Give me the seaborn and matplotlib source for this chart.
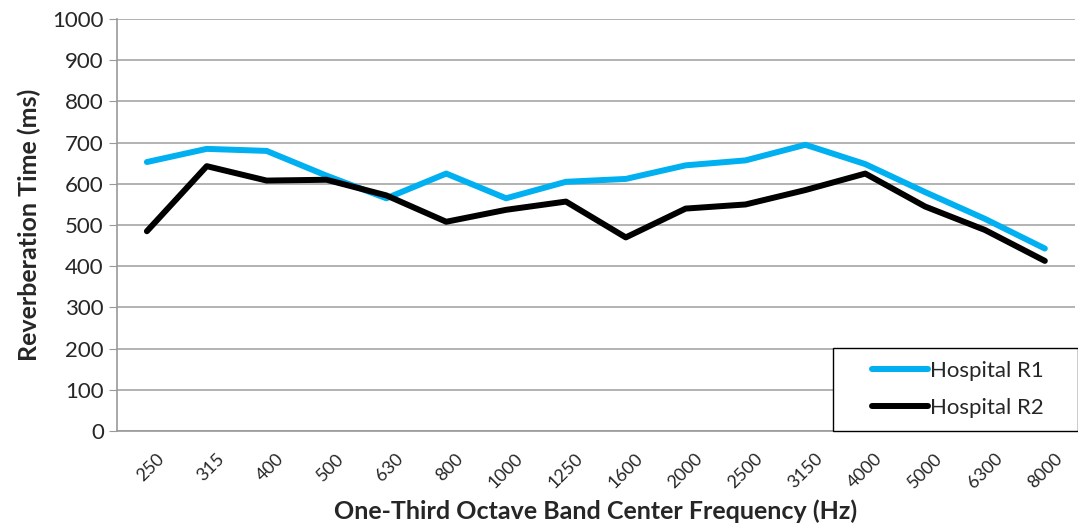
#!/usr/bin/env python3
"""Reverberation time per one-third octave band for two hospital rooms."""

import numpy as np
import pandas as pd
import matplotlib
matplotlib.use("Agg")
import matplotlib.pyplot as plt
from matplotlib.patches import Rectangle
import seaborn as sns

# Data
frequencies = ["250", "315", "400", "500", "630", "800", "1000", "1250",
               "1600", "2000", "2500", "3150", "4000", "5000", "6300", "8000"]
hospital_r1 = [653, 685, 680, 620, 565, 625, 565, 605,
               612, 645, 657, 695, 648, 580, 515, 443]
hospital_r2 = [485, 643, 608, 610, 572, 508, 537, 557,
               470, 540, 550, 585, 625, 545, 488, 413]
series_names = ["Hospital R1", "Hospital R2"]
y_ticks = list(range(0, 1001, 100))

df = pd.DataFrame({
    "pos": list(range(len(frequencies))) * 2,
    "rt": hospital_r1 + hospital_r2,
    "series": [series_names[0]] * len(frequencies) + [series_names[1]] * len(frequencies),
})

sns.set_style("white")
plt.rcParams["font.family"] = ["Lato", "DejaVu Sans"]

fig = plt.figure(figsize=(10.78, 5.24), dpi=100)
ax = fig.add_axes([0.1085, 0.1775, 0.8885, 0.786])

sns.lineplot(data=df, x="pos", y="rt", hue="series",
             palette={"Hospital R1": "#00B0F0", "Hospital R2": "#000000"},
             linewidth=4.3, ax=ax, legend=True)
for line in ax.get_lines():
    line.set_solid_capstyle("round")

n = len(frequencies)
ax.set_xlim(-0.5, n - 0.5)
ax.set_ylim(0, 1000)
ax.set_yticks(y_ticks)
ax.set_yticklabels([str(v) for v in y_ticks], fontsize=16)

# category labels at centres, tick marks at boundaries (spreadsheet style)
ax.set_xticks(np.arange(n) + 0.15)
ax.set_xticklabels(frequencies, rotation=45, fontsize=13, ha="right",
                   rotation_mode="anchor")
ax.tick_params(axis="x", length=0, pad=14)
ax.set_xticks(np.arange(n + 1) - 0.5, minor=True)
ax.tick_params(axis="x", which="minor", length=6, color="#999999", direction="out")
ax.tick_params(axis="y", length=6, color="#999999", direction="out", left=True)

ax.grid(axis="y", color="#a6a6a6", linewidth=1.2)
ax.set_axisbelow(True)
for side in ["top", "right"]:
    ax.spines[side].set_visible(False)
for side in ["left", "bottom"]:
    ax.spines[side].set_color("#999999")
    ax.spines[side].set_linewidth(1.2)

ax.set_xlabel("One-Third Octave Band Center Frequency (Hz)", fontsize=18,
              fontweight="bold", labelpad=6)
ax.set_ylabel("Reverberation Time (ms)", fontsize=18, fontweight="bold", labelpad=8)

# legend box sits over the lower right corner of the plot area
box = Rectangle((0.7727, 0.1775), 0.2273, 0.158, transform=fig.transFigure,
                facecolor="white", edgecolor="black", linewidth=1.0,
                clip_on=False, zorder=4)
ax.add_patch(box)

leg = ax.legend(loc="center left", bbox_to_anchor=(0.809, 0.2565),
                bbox_transform=fig.transFigure, frameon=False,
                fontsize=16, handlelength=2.5, handletextpad=0.1,
                borderpad=0.0, labelspacing=0.75, borderaxespad=0.0)
leg.set_zorder(5)
for h in leg.get_lines():
    h.set_linewidth(4.3)
    h.set_solid_capstyle("round")

fig.savefig("out.png", dpi=100)
